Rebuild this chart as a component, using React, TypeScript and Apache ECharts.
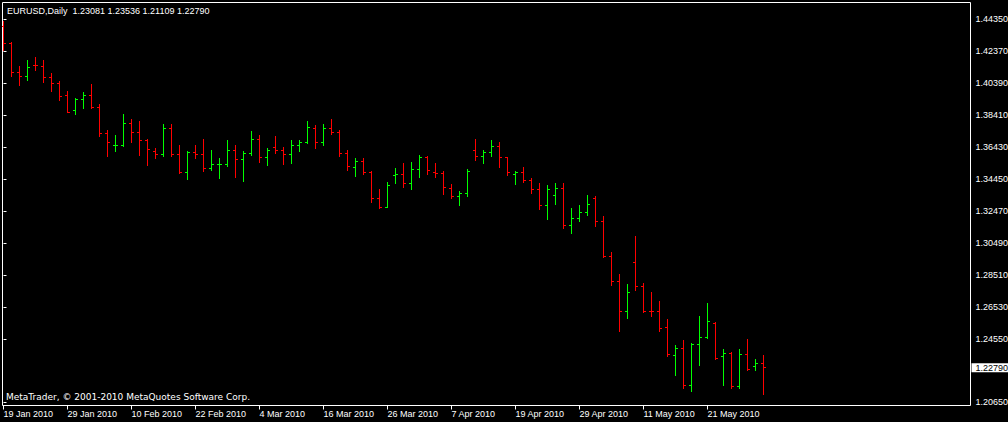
import React, { useEffect, useRef } from "react";
import * as echarts from "echarts";

const symbolName = "EURUSD";
const timeframe = "Daily";

const dates = [
  "19 Jan 2010", "20 Jan 2010", "21 Jan 2010", "22 Jan 2010", "25 Jan 2010", "26 Jan 2010", "27 Jan 2010", "28 Jan 2010", "29 Jan 2010",
  "1 Feb 2010", "2 Feb 2010", "3 Feb 2010", "4 Feb 2010", "5 Feb 2010", "8 Feb 2010", "9 Feb 2010", "10 Feb 2010", "11 Feb 2010", "12 Feb 2010",
  "15 Feb 2010", "16 Feb 2010", "17 Feb 2010", "18 Feb 2010", "19 Feb 2010", "22 Feb 2010", "23 Feb 2010", "24 Feb 2010", "25 Feb 2010", "26 Feb 2010",
  "1 Mar 2010", "2 Mar 2010", "3 Mar 2010", "4 Mar 2010", "5 Mar 2010", "8 Mar 2010", "9 Mar 2010", "10 Mar 2010", "11 Mar 2010", "12 Mar 2010",
  "15 Mar 2010", "16 Mar 2010", "17 Mar 2010", "18 Mar 2010", "19 Mar 2010", "22 Mar 2010", "23 Mar 2010", "24 Mar 2010", "25 Mar 2010", "26 Mar 2010",
  "29 Mar 2010", "30 Mar 2010", "31 Mar 2010", "1 Apr 2010", "2 Apr 2010", "5 Apr 2010", "6 Apr 2010", "7 Apr 2010", "8 Apr 2010", "9 Apr 2010",
  "12 Apr 2010", "13 Apr 2010", "14 Apr 2010", "15 Apr 2010", "16 Apr 2010", "19 Apr 2010", "20 Apr 2010", "21 Apr 2010", "22 Apr 2010", "23 Apr 2010",
  "26 Apr 2010", "27 Apr 2010", "28 Apr 2010", "29 Apr 2010", "30 Apr 2010", "3 May 2010", "4 May 2010", "5 May 2010", "6 May 2010", "7 May 2010",
  "10 May 2010", "11 May 2010", "12 May 2010", "13 May 2010", "14 May 2010", "17 May 2010", "18 May 2010", "19 May 2010", "20 May 2010", "21 May 2010",
  "24 May 2010", "25 May 2010", "26 May 2010", "27 May 2010", "28 May 2010", "31 May 2010", "1 Jun 2010",
];

const openPrices = [
  1.4390, 1.4287, 1.4107, 1.4082, 1.4152, 1.4146, 1.4076, 1.4035, 1.3965, 1.3868,
  1.3936, 1.3965, 1.3891, 1.3730, 1.3655, 1.3656, 1.3792, 1.3736, 1.3686, 1.3618,
  1.3600, 1.3761, 1.3600, 1.3488, 1.3612, 1.3600, 1.3513, 1.3538, 1.3539, 1.3625,
  1.3569, 1.3606, 1.3693, 1.3581, 1.3643, 1.3625, 1.3600, 1.3655, 1.3674, 1.3761,
  1.3674, 1.3761, 1.3736, 1.3606, 1.3519, 1.3556, 1.3488, 1.3327, 1.3272, 1.3470,
  1.3476, 1.3420, 1.3507, 1.3581, 1.3488, 1.3482, 1.3389, 1.3340, 1.3358, 1.3625,
  1.3587, 1.3612, 1.3649, 1.3581, 1.3476, 1.3488, 1.3439, 1.3383, 1.3284, 1.3346,
  1.3389, 1.3160, 1.3204, 1.3241, 1.3329, 1.3187, 1.2969, 1.2814, 1.2628, 1.2931,
  1.2783, 1.2628, 1.2626, 1.2525, 1.2352, 1.2401, 1.2172, 1.2420, 1.2469, 1.2550,
  1.2346, 1.2370, 1.2160, 1.2358, 1.2284, 1.23081,
];

const highPrices = [
  1.4420, 1.4293, 1.4146, 1.4183, 1.4196, 1.4183, 1.4097, 1.4053, 1.3991, 1.3942,
  1.3979, 1.4029, 1.3905, 1.3750, 1.3713, 1.3843, 1.3812, 1.3800, 1.3694, 1.3633,
  1.3781, 1.3787, 1.3655, 1.3618, 1.3657, 1.3694, 1.3626, 1.3571, 1.3682, 1.3657,
  1.3620, 1.3738, 1.3713, 1.3633, 1.3707, 1.3639, 1.3682, 1.3688, 1.3800, 1.3775,
  1.3787, 1.3818, 1.3744, 1.3626, 1.3571, 1.3571, 1.3495, 1.3385, 1.3428, 1.3509,
  1.3540, 1.3552, 1.3595, 1.3589, 1.3540, 1.3496, 1.3410, 1.3367, 1.3503, 1.3694,
  1.3626, 1.3682, 1.3670, 1.3583, 1.3496, 1.3521, 1.3447, 1.3422, 1.3404, 1.3416,
  1.3416, 1.3267, 1.3280, 1.3342, 1.3336, 1.3212, 1.2995, 1.2859, 1.2795, 1.3094,
  1.2803, 1.2742, 1.2686, 1.2575, 1.2414, 1.2445, 1.2432, 1.2599, 1.2674, 1.2562,
  1.2389, 1.2376, 1.2395, 1.2451, 1.2333, 1.23536,
];

const lowPrices = [
  1.4245, 1.4080, 1.4024, 1.4059, 1.4121, 1.4041, 1.3991, 1.3930, 1.3860, 1.3849,
  1.3880, 1.3880, 1.3709, 1.3585, 1.3616, 1.3647, 1.3672, 1.3591, 1.3529, 1.3573,
  1.3585, 1.3585, 1.3482, 1.3441, 1.3571, 1.3492, 1.3498, 1.3449, 1.3527, 1.3455,
  1.3430, 1.3591, 1.3548, 1.3529, 1.3606, 1.3535, 1.3542, 1.3616, 1.3668, 1.3634,
  1.3653, 1.3724, 1.3585, 1.3498, 1.3461, 1.3473, 1.3300, 1.3263, 1.3269, 1.3418,
  1.3393, 1.3381, 1.3455, 1.3473, 1.3455, 1.3350, 1.3325, 1.3282, 1.3337, 1.3560,
  1.3542, 1.3589, 1.3517, 1.3467, 1.3412, 1.3427, 1.3356, 1.3259, 1.3195, 1.3290,
  1.3138, 1.3107, 1.3183, 1.3222, 1.3150, 1.2962, 1.2785, 1.2506, 1.2581, 1.2756,
  1.2618, 1.2599, 1.2506, 1.2346, 1.2228, 1.2148, 1.2135, 1.2290, 1.2457, 1.2327,
  1.2172, 1.2148, 1.2148, 1.2259, 1.2259, 1.21109,
];

const closePrices = [
  1.4287, 1.4107, 1.4082, 1.4138, 1.4150, 1.4076, 1.4035, 1.3959, 1.3861, 1.3936,
  1.3965, 1.3891, 1.3730, 1.3674, 1.3657, 1.3792, 1.3736, 1.3686, 1.3631, 1.3600,
  1.3761, 1.3600, 1.3488, 1.3612, 1.3600, 1.3513, 1.3538, 1.3539, 1.3625, 1.3569,
  1.3606, 1.3693, 1.3581, 1.3625, 1.3625, 1.3600, 1.3655, 1.3674, 1.3767, 1.3674,
  1.3761, 1.3736, 1.3606, 1.3525, 1.3556, 1.3488, 1.3327, 1.3272, 1.3408, 1.3476,
  1.3420, 1.3507, 1.3581, 1.3501, 1.3482, 1.3396, 1.3340, 1.3358, 1.3496, 1.3587,
  1.3612, 1.3649, 1.3581, 1.3488, 1.3488, 1.3439, 1.3383, 1.3284, 1.3383, 1.3389,
  1.3160, 1.3204, 1.3241, 1.3292, 1.3187, 1.2969, 1.2814, 1.2628, 1.2746, 1.2783,
  1.2628, 1.2626, 1.2519, 1.2358, 1.2401, 1.2172, 1.2420, 1.2469, 1.2568, 1.2339,
  1.2370, 1.2160, 1.2358, 1.2271, 1.2308, 1.22790,
];

const priceTicks = [
  1.4435, 1.4237, 1.4039, 1.3841, 1.3643, 1.3445, 1.3247, 1.3049, 1.2851, 1.2653, 1.2455, 1.2065,
];
const dateTickIndexes = [0, 8, 16, 24, 32, 40, 48, 56, 64, 72, 80, 88];

const footerText = "MetaTrader, \u00a9 2001-2010 MetaQuotes Software Corp.";

const UP = "#00ff00";
const DOWN = "#ff0000";

export default function App() {
  const ref = useRef<HTMLDivElement>(null);

  useEffect(() => {
    document.body.style.margin = "0";
    document.body.style.background = "#000";
    if (!ref.current) return;
    const chart = echarts.init(ref.current, undefined, { renderer: "svg" });

    const last = dates.length - 1;
    const lastClose = closePrices[last];
    const header =
      `${symbolName},${timeframe}  ` +
      [openPrices[last], highPrices[last], lowPrices[last], closePrices[last]]
        .map((v) => v.toFixed(5))
        .join(" ");

    const data = dates.map((_, i) => [i, openPrices[i], highPrices[i], lowPrices[i], closePrices[i]]);

    const option: any = {
      animation: false,
      backgroundColor: "#000000",
      grid: {
        left: 2.5,
        top: 2.5,
        right: 37.5,
        bottom: 16.5,
        containLabel: false,
        outerBoundsMode: "none",
        show: true,
        borderColor: "#ffffff",
        borderWidth: 1,
        backgroundColor: "transparent",
      },
      xAxis: {
        type: "value",
        min: -0.125,
        max: 120.875,
        axisLine: { show: false },
        splitLine: { show: false },
        axisTick: {
          show: true,
          length: 4,
          customValues: dateTickIndexes,
          lineStyle: { color: "#ffffff", width: 1 },
        },
        axisLabel: {
          customValues: dateTickIndexes,
          formatter: (v: number) => dates[Math.round(v)] ?? "",
          color: "#ffffff",
          fontFamily: "Liberation Sans",
          fontSize: 9,
          align: "left",
          margin: 4,
        },
      },
      yAxis: {
        type: "value",
        position: "right",
        min: 1.204544,
        max: 1.453895,
        axisLine: { show: false },
        splitLine: { show: false },
        axisTick: {
          show: true,
          length: 3,
          customValues: priceTicks,
          lineStyle: { color: "#ffffff", width: 1 },
        },
        axisLabel: {
          customValues: [...priceTicks, lastClose],
          margin: 1,
          formatter: (v: number) =>
            Math.abs(v - lastClose) < 1e-7 ? `{cur|${v.toFixed(5)}}` : `{n|${v.toFixed(5)}}`,
          rich: {
            n: {
              color: "#ffffff",
              fontFamily: "Liberation Sans",
              fontSize: 9,
              padding: [0, 0, 0, 4],
            },
            cur: {
              color: "#000000",
              backgroundColor: "#ffffff",
              fontFamily: "Liberation Sans",
              fontSize: 9,
              lineHeight: 9,
              padding: [0, 10, 0, 4],
            },
          },
        },
      },
      series: [
        {
          type: "custom",
          clip: true,
          data,
          encode: { x: 0, y: [1, 2, 3, 4] },
          renderItem: (params: any, api: any) => {
            const i = api.value(0);
            const o = api.value(1);
            const h = api.value(2);
            const l = api.value(3);
            const c = api.value(4);
            const pO = api.coord([i, o]);
            const pH = api.coord([i, h]);
            const pL = api.coord([i, l]);
            const pC = api.coord([i, c]);
            const x = Math.floor(pO[0]);
            const color = c >= o ? UP : DOWN;
            const top = Math.floor(pH[1]);
            const bottom = Math.floor(pL[1]);
            return {
              type: "group",
              children: [
                {
                  type: "rect",
                  shape: { x, y: top, width: 1, height: bottom - top + 1 },
                  style: { fill: color },
                },
                {
                  type: "rect",
                  shape: { x: x - 2, y: Math.floor(pO[1]), width: 2, height: 1 },
                  style: { fill: color },
                },
                {
                  type: "rect",
                  shape: { x: x + 1, y: Math.floor(pC[1]), width: 2, height: 1 },
                  style: { fill: color },
                },
              ],
            };
          },
        },
      ],
      graphic: [
        {
          type: "text",
          left: 7,
          top: 6,
          style: {
            text: header,
            fill: "#ffffff",
            fontFamily: "Liberation Sans",
            fontSize: 9,
          },
        },
        {
          type: "text",
          left: 6,
          top: 392,
          style: {
            text: footerText,
            fill: "#ffffff",
            fontFamily: "DejaVu Sans",
            fontSize: 9,
          },
        },
      ],
    };

    chart.setOption(option);
    return () => chart.dispose();
  }, []);

  return <div ref={ref} style={{ width: 1008, height: 422 }} />;
}
